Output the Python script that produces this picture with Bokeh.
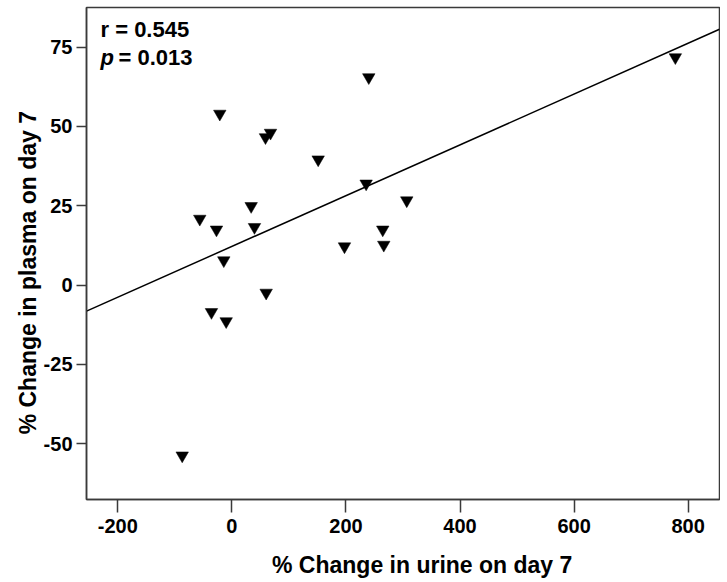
import numpy as np
from bokeh.plotting import figure
from bokeh.models import Range1d, FixedTicker, Label, ColumnDataSource
from bokeh.embed import file_html
from bokeh.resources import INLINE

# % change in urine on day 7 (x) and % change in plasma on day 7 (y)
urine_change = [777.5, 240, -21.2, 58.9, 67.7, 151.3, 235.4, 306.6, 264.5, 266.3,
                197.4, 33.8, 39.6, -56.3, -27, -14.2, 60.1, -35.8, -10, -87.1]
plasma_change = [71.8, 65.5, 54, 46.6, 48, 39.6, 32, 26.7, 17.5, 12.7,
                 12.2, 24.9, 18.3, 20.9, 17.5, 7.8, -2.4, -8.5, -11.4, -53.7]

x_ticks = [-200, 0, 200, 400, 600, 800]
x_tick_labels = ["-200", "0", "200", "400", "600", "800"]
y_ticks = [-50, -25, 0, 25, 50, 75]
y_tick_labels = ["-50", "-25", "0", "25", "50", "75"]
x_label = "% Change in urine on day 7"
y_label = "% Change in plasma on day 7"
r_text = "r = 0.545"
p_text = "= 0.013"

X_START, X_END = -254.9, 854.9
Y_START, Y_END = -67.55, 87.5

FONT = "Liberation Sans"
AX = "#3a3a3a"
NB = "\u00a0"

p = figure(width=720, height=582, output_backend="svg", toolbar_location=None,
           x_range=Range1d(X_START, X_END), y_range=Range1d(Y_START, Y_END),
           min_border_left=86, min_border_right=1, min_border_top=7, min_border_bottom=83)
p.grid.visible = False
p.background_fill_color = "white"
p.border_fill_color = "white"
p.outline_line_color = AX
p.outline_line_width = 1.5

for ax in (p.xaxis[0], p.yaxis[0]):
    ax.axis_line_color = AX
    ax.axis_line_width = 1.5
    ax.major_tick_line_color = AX
    ax.major_tick_line_width = 1.5
    ax.minor_tick_line_color = None
    ax.major_tick_in = 0
    ax.major_label_text_font = FONT
    ax.major_label_text_font_style = "bold"
    ax.major_label_text_font_size = "20px"
    ax.major_label_text_color = "black"
    ax.axis_label_text_font = FONT
    ax.axis_label_text_font_style = "bold"
    ax.axis_label_text_font_size = "23px"
    ax.axis_label_text_color = "black"

p.xaxis.ticker = FixedTicker(ticks=x_ticks)
p.yaxis.ticker = FixedTicker(ticks=y_ticks)
p.xaxis.major_label_overrides = {t: s for t, s in zip(x_ticks, x_tick_labels)}
p.yaxis.major_label_overrides = {t: s for t, s in zip(y_ticks, y_tick_labels)}
p.xaxis.major_tick_out = 13
p.yaxis.major_tick_out = 10
p.xaxis.major_label_standoff = 6
p.yaxis.major_label_standoff = 4
# non-breaking spaces shift the centred titles as in the reference
p.xaxis.axis_label = NB * 6 + x_label
p.yaxis.axis_label = y_label + NB * 6
p.xaxis.axis_label_standoff = 16
p.yaxis.axis_label_standoff = 0
p.yaxis.axis_label_text_line_height = 1.6

# regression line
slope, intercept = np.polyfit(urine_change, plasma_change, 1)
lx = [X_START, X_END]
ly = [intercept + slope * v for v in lx]
p.line(lx, ly, line_color="black", line_width=1.5)

src = ColumnDataSource(dict(x=urine_change, y=plasma_change))
p.scatter("x", "y", source=src, marker="inverted_triangle", size=12.5,
          fill_color="black", line_color="black", line_width=0.5)

def lab(**kw):
    base = dict(x_units="screen", y_units="screen", text_font=FONT,
                text_font_style="bold", text_color="black", text_baseline="alphabetic",
                text_font_size="22px")
    base.update(kw)
    p.add_layout(Label(**base))

lab(x=14, y=470, text=r_text)
lab(x=14, y=442, text="p", text_font_style="bold italic")
lab(x=32, y=442, text=p_text)

open("out.html", "w").write(file_html(p, INLINE))
